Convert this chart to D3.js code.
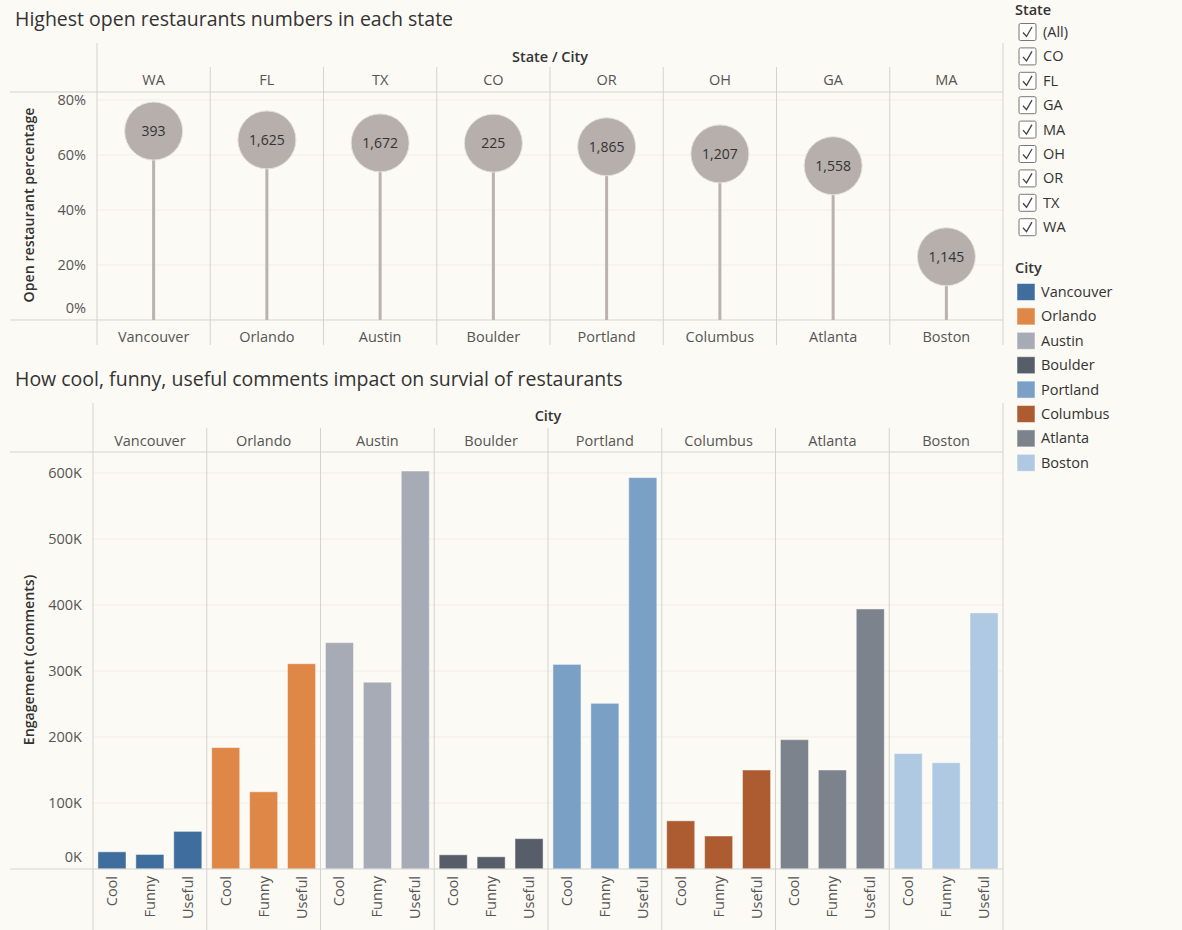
<!DOCTYPE html>
<html>
<head>
<meta charset="utf-8">
<script src="https://cdn.jsdelivr.net/npm/d3@7"></script>
<style>
  html, body { margin: 0; padding: 0; background: #fcfaf4; }
  svg { display: block; font-family: "Open Sans", "Noto Sans", sans-serif; }
</style>
</head>
<body>
<svg id="viz" width="1182" height="930"></svg>
<script>
// ====
// DATA
// ====

const states = ["WA", "FL", "TX", "CO", "OR", "OH", "GA", "MA"];
const cities = ["Vancouver", "Orlando", "Austin", "Boulder", "Portland", "Columbus", "Atlanta", "Boston"];
const openPct = [0.687, 0.655, 0.644, 0.643, 0.630, 0.604, 0.561, 0.230];
const openCount = [393, 1625, 1672, 225, 1865, 1207, 1558, 1145];

const metrics = ["Cool", "Funny", "Useful"];
const cool = [26000, 184000, 343000, 21500, 310000, 73000, 196000, 175000];
const funny = [22000, 117000, 283000, 18500, 251000, 50000, 150000, 161000];
const useful = [57000, 311000, 603000, 46000, 593000, 150000, 394000, 388000];

const pctTicks = [0, 0.2, 0.4, 0.6, 0.8];
const engTicks = [0, 100000, 200000, 300000, 400000, 500000, 600000];

const legendStates = ["(All)", "CO", "FL", "GA", "MA", "OH", "OR", "TX", "WA"];
const cityColors = ["#3f6d9e", "#df8747", "#a6abb5", "#575e69", "#7aa0c6", "#ac5c30", "#7d838d", "#b0c9e3"];

// ======
// STYLES
// ======

const lineColor = "#d3d3d0";
const gridColor = "#f1eee6";
const textColor = "#555";
const darkText = "#333";
const fs = 14.5;     // label size
const titleFs = 19.5;

const svg = d3.select("#viz");
const color = d3.scaleOrdinal().domain(cities).range(cityColors);

function hline(g, x1, x2, y, c) {
  g.append("line").attr("x1", x1).attr("x2", x2).attr("y1", y).attr("y2", y)
    .attr("stroke", c || lineColor).attr("stroke-width", 1);
}
function vline(g, x, y1, y2, c) {
  g.append("line").attr("x1", x).attr("x2", x).attr("y1", y1).attr("y2", y2)
    .attr("stroke", c || lineColor).attr("stroke-width", 1);
}

// =====================
// TOP: LOLLIPOP CHART
// =====================

const topL = { left: 97, right: 1003, head: 43, stateRow: 67, plotTop: 92, base: 320, bottom: 345 };

svg.append("text")
  .attr("x", 15).attr("y", 26)
  .attr("font-size", titleFs).attr("fill", darkText)
  .text("Highest open restaurants numbers in each state");

const gTop = svg.append("g");

const xTop = d3.scaleBand().domain(cities).range([topL.left, topL.right]);
const yTop = d3.scaleLinear().domain([0, 0.8]).range([topL.base, 100]);

// gridlines
pctTicks.filter(d => d > 0).forEach(d => hline(gTop, topL.left, topL.right, yTop(d), gridColor));

// frame
hline(gTop, 10, topL.right, topL.plotTop);
hline(gTop, 10, topL.right, topL.base);
vline(gTop, topL.left, topL.head, topL.bottom);
vline(gTop, topL.right, topL.head, topL.bottom);
cities.slice(1).forEach(c => vline(gTop, xTop(c), topL.stateRow, topL.bottom));

gTop.append("text")
  .attr("x", (topL.left + topL.right) / 2).attr("y", 62)
  .attr("text-anchor", "middle").attr("font-size", fs).attr("font-weight", 600)
  .attr("fill", darkText).text("State / City");

gTop.selectAll(".state").data(states).enter().append("text")
  .attr("class", "state")
  .attr("x", (d, i) => xTop(cities[i]) + xTop.bandwidth() / 2)
  .attr("y", 85).attr("text-anchor", "middle").attr("font-size", fs)
  .attr("fill", textColor).text(d => d);

gTop.selectAll(".city").data(cities).enter().append("text")
  .attr("class", "city")
  .attr("x", d => xTop(d) + xTop.bandwidth() / 2)
  .attr("y", 342).attr("text-anchor", "middle").attr("font-size", fs)
  .attr("fill", textColor).text(d => d);

// y axis
const axTop = gTop.append("g").attr("transform", `translate(${topL.left - 8},0)`)
  .call(d3.axisLeft(yTop).tickValues(pctTicks).tickFormat(d3.format(".0%")).tickSize(0));
axTop.select(".domain").remove();
axTop.selectAll("text").attr("font-size", fs).attr("fill", textColor)
  .attr("font-family", "Open Sans, Noto Sans, sans-serif")
  .attr("dy", d => d === 0 ? "-0.55em" : "0.32em");

gTop.append("text")
  .attr("transform", `translate(34,${(100 + topL.base) / 2 - 5}) rotate(-90)`)
  .attr("text-anchor", "middle").attr("font-size", 14.2).attr("font-weight", 600)
  .attr("fill", darkText).text("Open restaurant percentage");

// lollipops
const pops = gTop.selectAll(".pop").data(cities).enter().append("g").attr("class", "pop");
pops.append("line")
  .attr("x1", d => xTop(d) + xTop.bandwidth() / 2)
  .attr("x2", d => xTop(d) + xTop.bandwidth() / 2)
  .attr("y1", (d, i) => yTop(openPct[i]))
  .attr("y2", yTop(0))
  .attr("stroke", "#b9b2af").attr("stroke-width", 3);
pops.append("circle")
  .attr("cx", d => xTop(d) + xTop.bandwidth() / 2)
  .attr("cy", (d, i) => yTop(openPct[i]))
  .attr("r", 29)
  .attr("fill", "#b6afac").attr("stroke", "#e6e1dc").attr("stroke-width", 1);
pops.append("text")
  .attr("x", d => xTop(d) + xTop.bandwidth() / 2)
  .attr("y", (d, i) => yTop(openPct[i]))
  .attr("dy", "0.35em").attr("text-anchor", "middle")
  .attr("font-size", 14).attr("fill", darkText)
  .text((d, i) => d3.format(",")(openCount[i]));

// =====================
// BOTTOM: BAR CHART
// =====================

const botL = { left: 93, right: 1003, head: 403, cityRow: 428, plotTop: 452, base: 869, bottom: 930 };

svg.append("text")
  .attr("x", 15).attr("y", 386)
  .attr("font-size", titleFs).attr("fill", darkText)
  .text("How cool, funny, useful comments impact on survial of restaurants");

const gBot = svg.append("g");

const xBot = d3.scaleBand().domain(cities).range([botL.left, botL.right]);
const xIn = d3.scaleBand().domain(metrics).range([0, xBot.bandwidth()])
  .paddingInner(0.26).paddingOuter(0.13);
const yBot = d3.scaleLinear().domain([0, 600000]).range([botL.base, 473]);

engTicks.filter(d => d > 0).forEach(d => hline(gBot, botL.left, botL.right, yBot(d), gridColor));

hline(gBot, 10, botL.right, botL.plotTop);
vline(gBot, botL.left, botL.head, botL.bottom);
vline(gBot, botL.right, botL.head, botL.bottom);
cities.slice(1).forEach(c => vline(gBot, xBot(c), botL.cityRow, botL.bottom));

gBot.append("text")
  .attr("x", (botL.left + botL.right) / 2).attr("y", 421)
  .attr("text-anchor", "middle").attr("font-size", fs).attr("font-weight", 600)
  .attr("fill", darkText).text("City");

gBot.selectAll(".city").data(cities).enter().append("text")
  .attr("class", "city")
  .attr("x", d => xBot(d) + xBot.bandwidth() / 2)
  .attr("y", 446).attr("text-anchor", "middle").attr("font-size", fs)
  .attr("fill", textColor).text(d => d);

const axBot = gBot.append("g").attr("transform", `translate(${botL.left - 8},0)`)
  .call(d3.axisLeft(yBot).tickValues(engTicks).tickFormat(d => (d / 1000) + "K").tickSize(0));
axBot.select(".domain").remove();
axBot.selectAll("text").attr("font-size", fs).attr("fill", textColor)
  .attr("font-family", "Open Sans, Noto Sans, sans-serif")
  .attr("dy", d => d === 0 ? "-0.55em" : "0.32em");

gBot.append("text")
  .attr("transform", `translate(34,660) rotate(-90)`)
  .attr("text-anchor", "middle").attr("font-size", 14.2).attr("font-weight", 600)
  .attr("fill", darkText).text("Engagement (comments)");

// bars
const barData = [];
cities.forEach((c, i) => {
  barData.push({ city: c, metric: "Cool", value: cool[i] });
  barData.push({ city: c, metric: "Funny", value: funny[i] });
  barData.push({ city: c, metric: "Useful", value: useful[i] });
});

gBot.selectAll(".bar").data(barData).enter().append("rect")
  .attr("class", "bar")
  .attr("x", d => xBot(d.city) + xIn(d.metric))
  .attr("y", d => yBot(d.value))
  .attr("width", xIn.bandwidth())
  .attr("height", d => yBot(0) - yBot(d.value))
  .attr("fill", d => color(d.city))
  .attr("stroke", "rgba(255,255,255,0.45)").attr("stroke-width", 1);

hline(gBot, 10, botL.right, botL.base);

gBot.selectAll(".metric").data(barData).enter().append("text")
  .attr("class", "metric")
  .attr("transform", d => `translate(${xBot(d.city) + xIn(d.metric) + xIn.bandwidth() / 2 + 5},876) rotate(-90)`)
  .attr("text-anchor", "end").attr("font-size", fs).attr("fill", textColor)
  .text(d => d.metric);

// ======
// LEGEND
// ======

const gLeg = svg.append("g");

gLeg.append("text").attr("x", 1015).attr("y", 15)
  .attr("font-size", fs).attr("font-weight", 600).attr("fill", darkText).text("State");

const rows = gLeg.selectAll(".chk").data(legendStates).enter().append("g")
  .attr("class", "chk")
  .attr("transform", (d, i) => `translate(1019,${32 + i * 24.4})`);
rows.append("rect").attr("x", 0).attr("y", -8.5).attr("width", 17).attr("height", 17)
  .attr("rx", 1.5).attr("fill", "#fff").attr("stroke", "#777").attr("stroke-width", 1);
rows.append("path").attr("d", "M4,0.5 L7.5,4.5 L13,-5")
  .attr("fill", "none").attr("stroke", "#444").attr("stroke-width", 1.3);
rows.append("text").attr("x", 24).attr("dy", "0.35em")
  .attr("font-size", fs).attr("fill", darkText).text(d => d);

gLeg.append("text").attr("x", 1015).attr("y", 273)
  .attr("font-size", fs).attr("font-weight", 600).attr("fill", darkText).text("City");

const sw = gLeg.selectAll(".sw").data(cities).enter().append("g")
  .attr("class", "sw")
  .attr("transform", (d, i) => `translate(1017,${292 + i * 24.4})`);
sw.append("rect").attr("x", 0).attr("y", -8.5).attr("width", 18).attr("height", 17)
  .attr("fill", d => color(d)).attr("stroke", "rgba(255,255,255,0.5)");
sw.append("text").attr("x", 24).attr("dy", "0.35em")
  .attr("font-size", fs).attr("fill", darkText).text(d => d);
</script>
</body>
</html>
